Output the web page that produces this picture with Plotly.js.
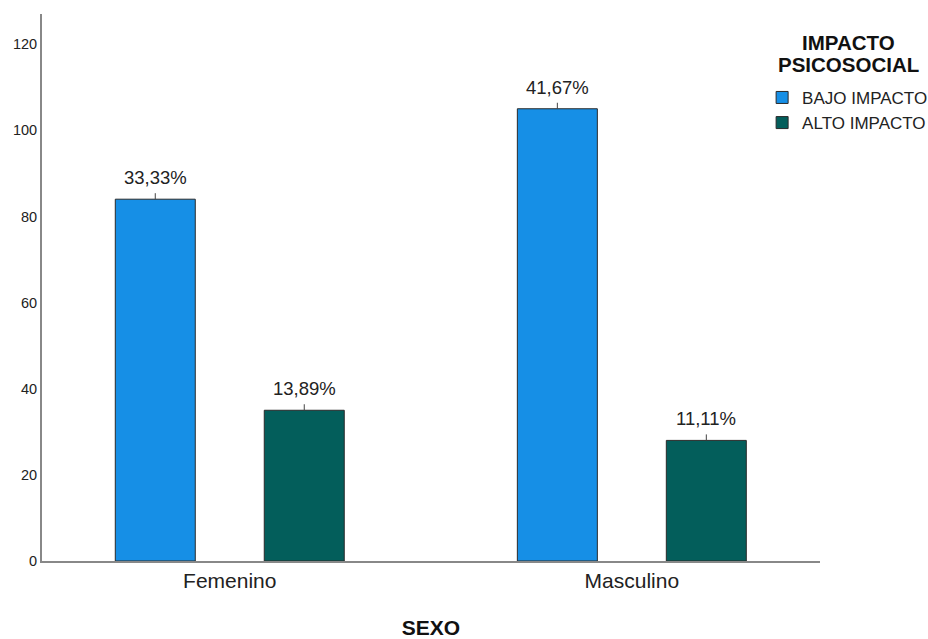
<!DOCTYPE html>
<html>
<head>
<meta charset="utf-8">
<script src="https://cdn.plot.ly/plotly-3.0.1.min.js"></script>
<style>html,body{margin:0;padding:0;background:#fff;}#chart{width:928px;height:639px;}</style>
</head>
<body>
<div id="chart"></div>
<script>
const categories = ["Femenino", "Masculino"];
const seriesNames = ["BAJO IMPACTO", "ALTO IMPACTO"];
const bajoValues = [84, 105];
const altoValues = [35, 28];
const bajoLabels = ["33,33%", "41,67%"];
const altoLabels = ["13,89%", "11,11%"];
const yTicks = [0, 20, 40, 60, 80, 100, 120];
const legendTitleLines = ["IMPACTO", "PSICOSOCIAL"];

const colors = ["#168FE6", "#035E5B"];
const bargap = 0.259, bargroupgap = 0.463;
const nTraces = 2;
const slot = (1 - bargap) / nTraces;
const offsets = [-slot / 2, slot / 2];

const seriesVals = [bajoValues, altoValues];
const seriesLabels = [bajoLabels, altoLabels];

const tickLenPx = 6;
const plotH = 639 - 14 - 78;
const yMax = 127;
const tickLenData = tickLenPx * yMax / plotH;

const FONT = 'Liberation Sans, Arial, sans-serif';

const traces = seriesVals.map((vals, i) => ({
  type: 'bar',
  name: seriesNames[i],
  x: categories,
  y: vals,
  marker: {color: colors[i], line: {color: '#2a2a2a', width: 1}},
  error_y: {type: 'data', symmetric: false, array: vals.map(() => tickLenData),
            arrayminus: vals.map(() => 0), width: 0, thickness: 1, color: '#444'},
  hoverinfo: 'none'
}));

const annotations = [];
seriesVals.forEach((vals, i) => {
  vals.forEach((v, j) => {
    annotations.push({
      xref: 'x', yref: 'y', x: j + offsets[i], y: v,
      text: seriesLabels[i][j], showarrow: false,
      yanchor: 'bottom', yshift: 9,
      font: {family: FONT, size: 18.5, color: '#222'}
    });
  });
});
const titleY = [0.947, 0.907];
legendTitleLines.forEach((line, k) => {
  annotations.push({
    xref: 'paper', yref: 'paper', x: 1.036, y: titleY[k],
    xanchor: 'center', yanchor: 'middle',
    text: '<b>' + line + '</b>', showarrow: false,
    font: {family: FONT, size: 20.5, color: '#111'}
  });
});

const layout = {
  width: 928, height: 639,
  margin: {l: 42, r: 108, t: 14, b: 78, autoexpand: false},
  paper_bgcolor: '#fff', plot_bgcolor: '#fff',
  barmode: 'group', bargap: bargap, bargroupgap: bargroupgap,
  font: {family: FONT, color: '#222'},
  xaxis: {
    type: 'category', range: [-0.467, 1.468],
    showline: true, linecolor: '#888', linewidth: 2,
    ticks: '', showgrid: false, zeroline: false,
    tickfont: {size: 21, color: '#222'},
    title: {text: '<b>SEXO</b>', font: {size: 21, color: '#111'}, standoff: 30}
  },
  yaxis: {
    range: [0, yMax], tickvals: yTicks, ticktext: yTicks.map(String),
    showline: true, linecolor: '#888', linewidth: 2,
    ticks: '', showgrid: false, zeroline: false,
    tickfont: {size: 14.5, color: '#222'}
  },
  showlegend: true,
  legend: {
    x: 0.9256, xanchor: 'left', y: 0.8795, yanchor: 'top',
    xref: 'paper', yref: 'paper',
    font: {size: 17, color: '#222'},
    itemwidth: 30, tracegroupgap: 0,
    bgcolor: 'rgba(0,0,0,0)'
  },
  annotations: annotations
};

Plotly.newPlot('chart', traces, layout, {displayModeBar: false, staticPlot: true});
</script>
</body>
</html>
